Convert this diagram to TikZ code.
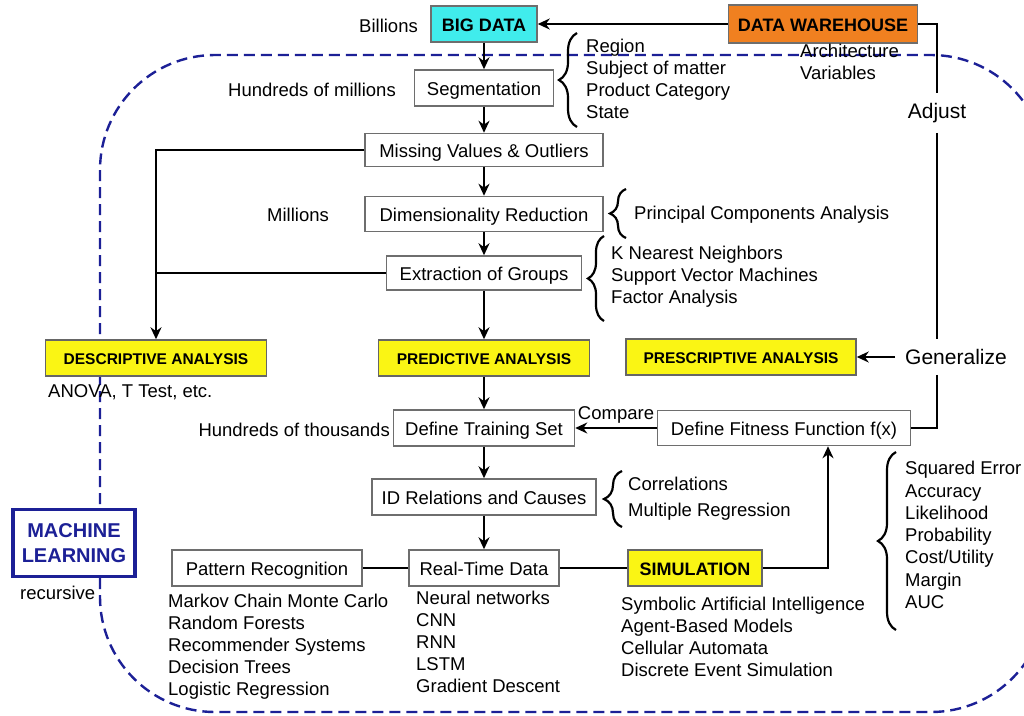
\documentclass[tikz,border=0pt]{standalone}
\usepackage{fontspec}
\setmainfont{Liberation Sans}
\usetikzlibrary{arrows.meta,decorations.pathreplacing}
\definecolor{mlblue}{RGB}{28,32,150}
\definecolor{bigcyan}{RGB}{64,236,236}
\definecolor{whorange}{RGB}{240,128,32}
\definecolor{anyellow}{RGB}{250,245,20}
\definecolor{boxgray}{RGB}{110,110,110}
\begin{document}
\begin{tikzpicture}[x=1pt,y=-1pt,>={Stealth[length=12pt,width=11pt]},
		every node/.style={font=\fontsize{18.5}{22}\selectfont},
		box/.style={draw=boxgray,line width=1.5pt,fill=white,minimum height=36pt,inner sep=0pt,text height=16pt,text depth=1pt},
		hot/.style={box,fill=anyellow,draw=black!60,font=\fontsize{15.5}{18}\selectfont\bfseries,text height=13pt,text depth=0pt},
		bold/.style={font=\fontsize{18}{22}\selectfont\bfseries,text height=15pt,text depth=0.5pt},
		arr/.style={->,line width=2.7pt},
		link/.style={line width=2.7pt},
		lst/.style={align=left,anchor=west,inner sep=0pt},
		brc/.style={decorate,decoration={brace,amplitude=#1},line width=2.2pt},
		gap/.style={inner sep=10pt,font=\fontsize{21}{24}\selectfont}]
		
		\useasboundingbox (0,0) rectangle (1024,715);
		\draw[mlblue,line width=2.4pt,dash pattern=on 11pt off 6pt,rounded corners=115pt] (100,55) rectangle (1046,712);
		
		\node[box,fill=bigcyan,bold,minimum width=106pt](bigdata) at (484,24) {BIG DATA};
		\node[box,fill=whorange,bold,minimum width=189pt,minimum height=38pt](warehouse) at (823,24) {DATA WAREHOUSE};
		\node[box,minimum width=139pt](segm) at (484,88) {Segmentation};
		\node[box,minimum width=238pt,minimum height=33pt](missing) at (484,150) {Missing Values \& Outliers};
		\node[box,minimum width=238pt,minimum height=35pt](dimred) at (484,214) {Dimensionality Reduction};
		\node[box,minimum width=195pt,minimum height=34pt](extract) at (484,273) {Extraction of Groups};
		\node[hot,minimum width=221pt](descr) at (156,358) {DESCRIPTIVE ANALYSIS};
		\node[hot,minimum width=211pt](predict) at (484,358) {PREDICTIVE ANALYSIS};
		\node[hot,minimum width=230pt](prescr) at (741,357) {PRESCRIPTIVE ANALYSIS};
		\node[box,minimum width=181pt](training) at (484,428) {Define Training Set};
		\node[box,minimum width=253pt,minimum height=35pt](fitness) at (784,428) {Define Fitness Function f(x)};
		\node[box,minimum width=224pt](idrel) at (484,497) {ID Relations and Causes};
		\node[box,minimum width=150pt](realtime) at (484,568) {Real-Time Data};
		\node[box,minimum width=190pt](pattern) at (267,568) {Pattern Recognition};
		\node[hot,bold,minimum width=134pt](simul) at (695,568) {SIMULATION};
		\node[draw=mlblue,line width=3.8pt,fill=white,text=mlblue,minimum width=122pt,minimum height=67pt,align=center,
			font=\fontsize{20}{25}\selectfont\bfseries](ml) at (74,543) {MACHINE\\LEARNING};
		
		\node[anchor=east,inner sep=0pt](billions) at (418,26) {Billions};
		\node[anchor=east,inner sep=0pt](hmill) at (396,90) {Hundreds of millions};
		\node[inner sep=0pt](mill) at (298,215) {Millions};
		\node[anchor=east,inner sep=0pt](hthou) at (390,430) {Hundreds of thousands};
		\node[lst](archi) at (800,62) {Architecture\\Variables};
		\node[lst](anova) at (48,392) {ANOVA, T Test, etc.};
		\node[lst](recur) at (20,593) {recursive};
		\node[inner sep=0pt](compare) at (616,415) {Compare};
		\node[gap](adjust) at (937,113) {Adjust};
		\node[gap,anchor=west](general) at (895,357) {Generalize};
		
		\node[lst](segmlist) at (586,79) {Region\\Subject of matter\\Product Category\\State};
		\node[lst](pca) at (634,215) {Principal Components Analysis};
		\node[lst](knnlist) at (611,277) {K Nearest Neighbors\\Support Vector Machines\\Factor Analysis};
		\node[lst,font=\fontsize{18.5}{26}\selectfont](corrlist) at (628,499) {Correlations\\Multiple Regression};
		\node[lst,font=\fontsize{18.5}{22.3}\selectfont](metrics) at (905,535) {Squared Error\\Accuracy\\Likelihood\\Probability\\Cost/Utility\\Margin\\AUC};
		\node[lst](patlist) at (168,647) {Markov Chain Monte Carlo\\Random Forests\\Recommender Systems\\Decision Trees\\Logistic Regression};
		\node[lst](rtlist) at (416,642) {Neural networks\\CNN\\RNN\\LSTM\\Gradient Descent};
		\node[lst](simlist) at (621,637) {Symbolic Artificial Intelligence\\Agent-Based Models\\Cellular Automata\\Discrete Event Simulation};
		
		\draw[arr] (warehouse) -- (bigdata);
		\draw[link] (warehouse.east) -| (adjust.north);
		\draw[link] (adjust.south) -- (adjust.south |- general.north);
		\draw[link] (adjust.south |- general.south) |- (fitness.east);
		\draw[arr] (general.west) -- (prescr.east);
		\draw[arr] (bigdata) -- (segm);
		\draw[arr] (segm) -- (missing);
		\draw[arr] (missing) -- (dimred);
		\draw[arr] (dimred) -- (extract);
		\draw[arr] (extract) -- (predict);
		\draw[arr] (predict) -- (training);
		\draw[arr] (training) -- (idrel);
		\draw[arr] (idrel) -- (realtime);
		\draw[arr] (missing.west) -| (descr.north);
		\draw[link] (extract.west) -- (extract.west -| descr.north);
		\draw[arr] (fitness.west) -- (training.east);
		\draw[link] (realtime) -- (pattern);
		\draw[link] (realtime) -- (simul);
		\draw[arr] (simul.east) -| ([xshift=44pt]fitness.south);
		
		\draw[brc=18pt] (577,127) -- (577,33);
		\draw[brc=16pt] (626,238) -- (626,189);
		\draw[brc=16pt] (604,321) -- (604,236);
		\draw[brc=18pt] (622,527) -- (622,471);
		\draw[brc=18pt] (896,630) -- (896,452);
		\end{tikzpicture}
\end{document}
